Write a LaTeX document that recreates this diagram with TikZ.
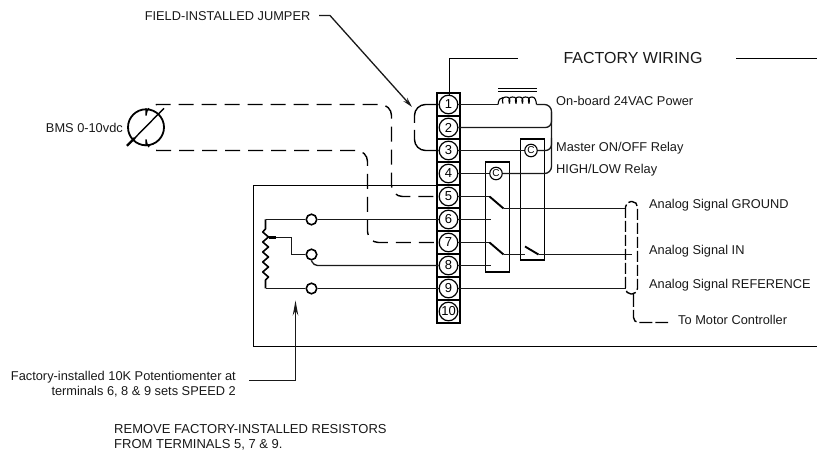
\documentclass[tikz,border=0pt]{standalone}
\usepackage{fontspec}
\setmainfont{Liberation Sans}
\usetikzlibrary{arrows.meta}
\tikzset{
  wire/.style={line width=1.3pt,draw=black!90},
  heavy/.style={line width=1.6pt,draw=black},
  dashwire/.style={line width=1.4pt,draw=black,dash pattern=on 15pt off 8pt},
  blade/.style={line width=1.9pt,draw=black},
  cell/.style={draw=black,line width=1.5pt,minimum width=23pt,minimum height=23pt,inner sep=0pt},
  term/.style={circle,draw=black,line width=1.2pt,fill=white,minimum size=18.6pt,inner sep=0pt,font=\fontsize{13}{13}\selectfont},
  common/.style={circle,draw=black,line width=1.1pt,fill=white,minimum size=12.5pt,inner sep=0pt,font=\fontsize{10}{10}\selectfont},
  contact/.style={circle,draw=black,line width=1.6pt,fill=white,minimum size=10.5pt,inner sep=0pt},
  lab/.style={inner sep=0pt,font=\fontsize{12.8}{14.8}\selectfont,text=black!90},
  relay/.style={draw=black,line width=1.6pt,inner sep=0pt,anchor=north west},
  tip/.style={-{Stealth[length=10pt,width=5pt]}},
  tiplong/.style={-{Stealth[length=15pt,width=5.5pt]}}
}
\begin{document}
\begin{tikzpicture}[x=1pt,y=-1pt]
\useasboundingbox (0,0) rectangle (817,454);
% terminal strip
\foreach \n/\y in {1/104.5,2/127.5,3/150.5,4/173.5,5/196.5,6/219.5,7/242.5,8/265.5,9/288.5,10/311.5}{
  \node[cell] (c\n) at (448.5,\y) {};
}
% coordinates
\coordinate (jogF) at (449.5,58.5);
\coordinate (facL) at (518,58.5);
\coordinate (facR) at (736,58.5);
\coordinate (facE) at (817,58.5);
\coordinate (boxA) at (437,185.5);
\coordinate (boxB) at (253.5,185.5);
\coordinate (boxC) at (253.5,346.5);
\coordinate (boxD) at (817,346.5);
% outer box
\draw[heavy] (boxA) -- (boxB) -- (boxC) -- (boxD);
% terminals
\foreach \n/\y in {1/104.5,2/127.5,3/150.5,4/173.5,5/196.5,6/219.5,7/242.5,8/265.5,9/288.5,10/311.5}{
  \node[term] (t\n) at (448.5,\y) {\n};
}
\draw[heavy] (t1.north -| jogF) -- (jogF) -- (facL);
\draw[heavy] (facR) -- (facE);
\node[lab,font=\fontsize{16}{16}\selectfont,anchor=center] (factory) at (633,58) {FACTORY WIRING};
% relay boxes
\node[relay,minimum width=24pt,minimum height=110pt] (rA) at (484.5,161.5) {};
\node[relay,minimum width=24pt,minimum height=121pt] (rB) at (519.5,138.5) {};
\node[common] (cA) at (496,173.5) {C};
\node[common] (cB) at (531,150.5) {C};
% transformer
\coordinate (coilL) at (498,104.5);
\coordinate (coilR) at (536.5,104.5);
\coordinate (barAl) at (498,88.5);
\coordinate (barAr) at (536.5,88.5);
\coordinate (barBl) at (498,91.5);
\coordinate (barBr) at (536.5,91.5);
\draw[line width=1pt] (barAl) -- (barAr);
\draw[line width=1pt] (barBl) -- (barBr);
\draw[wire] (t1.east) -- (coilL);
\draw[line width=1.1pt] (coilL) .. controls (498.5,100) and (500,97.5) .. (503,97.5);
\foreach \s in {503,509.5,516,522.5}{
  \draw[line width=1.1pt] (\s,103.5) .. controls (\s-1.5,99) and (\s,97) .. (\s+3,97)
     .. controls (\s+6.5,97) and (\s+7.5,99) .. (\s+6.5,103.5);
}
\draw[line width=1.1pt] (529,103.5) .. controls (527.5,99) and (529,97) .. (532,97)
     .. controls (535,97) and (536,100) .. (coilR);
% bus on right
\coordinate (busT) at (551.5,104.5);
\coordinate (busB) at (551.5,173.5);
\coordinate (bus2) at (551.5,127.5);
\coordinate (bus2t) at (551.5,112);
\coordinate (bus3) at (551.5,150.5);
\coordinate (bus3t) at (551.5,138);
\draw[wire,rounded corners=7pt] (coilR) -- (busT) -- (busB) -- (cA.east);
\draw[wire,rounded corners=6pt] (t2.east) -- (bus2) -- (bus2t);
\draw[wire,rounded corners=6pt] (cB.east) -- (bus3) -- (bus3t);
\draw[wire] (t3.east) -- (cB.west);
\draw[wire] (t4.east) -- (cA.west);
% switch contacts
\coordinate (s5a) at (489.5,196.5);
\coordinate (s5b) at (503.5,208.5);
\coordinate (s6a) at (491,219.5);
\coordinate (s7a) at (489.5,242.5);
\coordinate (s7b) at (503.5,254.5);
\coordinate (s7c) at (525,254.5);
\coordinate (s8a) at (491,265.5);
\coordinate (r2a) at (525,246.5);
\coordinate (r2b) at (538.5,254.5);
\draw[wire] (t5.east) -- (s5a);
\draw[wire] (t6.east) -- (s6a);
\draw[wire] (t7.east) -- (s7a);
\draw[wire] (t8.east) -- (s8a);
\draw[blade] (s5a) -- (s5b);
\draw[blade] (s7a) -- (s7b);
\draw[blade] (r2a) -- (r2b);
\draw[wire] (s7b) -- (s7c);
% shield
\coordinate (shTL) at (625.5,201.5);
\coordinate (shBR) at (637.5,294);
\coordinate (gndE) at (625.5,208.5);
\coordinate (inE) at (632,254.5);
\coordinate (refE) at (625.5,288.5);
\draw[wire] (s5b) -- (gndE);
\draw[wire] (r2b) -- (inE);
\draw[wire] (t9.east) -- (refE);
\draw[line width=1.4pt,dash pattern=on 11pt off 3pt,rounded corners=5.5pt] (shTL) rectangle (shBR);
\coordinate (tailA) at (633.5,294);
\coordinate (tailB) at (633.5,322.5);
\coordinate (tailC) at (668,322.5);
\draw[line width=1.4pt,dash pattern=on 13pt off 3pt,rounded corners=5pt] (tailA) -- (tailB) -- (tailC);
% BMS
\node[circle,draw=black,line width=1.8pt,minimum size=36pt,inner sep=0pt] (bms) at (146,127.3) {};
\coordinate (slashA) at (127,145.8);
\coordinate (slashM) at (135,137.8);
\coordinate (slashB) at (164,108.3);
\draw[line width=1.4pt] (slashM) -- (slashB);
\draw[line width=2.3pt] (slashA) -- (slashM);
\coordinate (bmsT) at (146,104.5);
\coordinate (bmsB) at (146,150.5);
\coordinate (d1a) at (391.5,104.5);
\coordinate (d1b) at (391.5,196.5);
\coordinate (d2a) at (367.5,150.5);
\coordinate (d2b) at (367.5,242.5);
\draw[dashwire,rounded corners=11pt] (bms.north) -- (bmsT) -- (d1a) -- (d1b) -- (t5.west);
\draw[dashwire,rounded corners=11pt] (bms.south) -- (bmsB) -- (d2a) -- (d2b) -- (t7.west);
% jumper
\coordinate (jU) at (414.5,104.5);
\coordinate (jUe) at (414.5,123);
\coordinate (jDs) at (414.5,130);
\coordinate (jD) at (414.5,150.5);
\draw[line width=1.4pt,rounded corners=11pt] (t1.west) -- (jU) -- (jUe);
\draw[line width=1.4pt,rounded corners=11pt] (jDs) -- (jD) -- (t3.west);
% potentiometer
\coordinate (potT) at (265.5,219.5);
\coordinate (potB) at (265.5,288.5);
\node[contact] (k1) at (311.5,219.5) {};
\node[contact] (k2) at (311.5,254.5) {};
\node[contact] (k3) at (311.5,288.5) {};
\draw[wire] (potT) -- (k1.west);
\draw[wire] (k1.east) -- (t6.west);
\draw[wire] (potB) -- (k3.west);
\draw[wire] (k3.east) -- (t9.west);
\coordinate (k2c) at (313.5,265.5);
\draw[wire,rounded corners=4pt] (k2.south) -- (k2c) -- (t8.west);
\draw[line width=1.6pt,line join=round] (potT) -- (265.5,229) -- (262.7,232) -- (268.5,237) -- (262.7,242) -- (268.5,247) -- (262.7,252) -- (268.5,257) -- (262.7,262) -- (268.5,267) -- (262.7,272) -- (268.5,277) -- (265.5,280) -- (potB);
\coordinate (wipA) at (268.5,237.5);
\coordinate (wipM) at (276,237.5);
\coordinate (wipB) at (291.5,237.5);
\coordinate (wipC) at (291.5,254.5);
\draw[line width=2.3pt] (wipA) -- (wipM);
\draw[wire] (wipM) -- (wipB) -- (wipC) -- (k2.west);
% leaders
\coordinate (fj1) at (319,15.5);
\coordinate (fj2) at (330,15.5);
\coordinate (fj3) at (412,107);
\draw[wire,tip] (fj1) -- (fj2) -- (fj3);
\coordinate (pl1) at (249,380.5);
\coordinate (pl2) at (295.5,380.5);
\coordinate (pl3) at (295.5,300.5);
\draw[wire,tiplong] (pl1) -- (pl2) -- (pl3);
% labels
\node[lab,anchor=east] (lfj) at (310.5,16.5) {FIELD-INSTALLED JUMPER};
\node[lab,anchor=east] (lbms) at (123,127.5) {BMS 0-10vdc};
\node[lab,anchor=west] (l1) at (556,101) {On-board 24VAC Power};
\node[lab,anchor=west] (l2) at (556,148) {Master ON/OFF Relay};
\node[lab,anchor=west] (l3) at (556,170) {HIGH/LOW Relay};
\node[lab,anchor=west] (l4) at (649,205) {Analog Signal GROUND};
\node[lab,anchor=west] (l5) at (649,251) {Analog Signal IN};
\node[lab,anchor=west] (l6) at (649,285) {Analog Signal REFERENCE};
\node[lab,anchor=west] (l7) at (678,320) {To Motor Controller};
\node[lab,anchor=north east,align=right] (lpot) at (236,371) {Factory-installed 10K Potentiomenter at\\terminals 6, 8 \& 9 sets SPEED 2};
\node[lab,anchor=north west,align=left,font=\fontsize{13}{14.8}\selectfont] (lrem) at (114,424) {REMOVE FACTORY-INSTALLED RESISTORS\\FROM TERMINALS 5, 7 \& 9.};
\end{tikzpicture}
\end{document}
